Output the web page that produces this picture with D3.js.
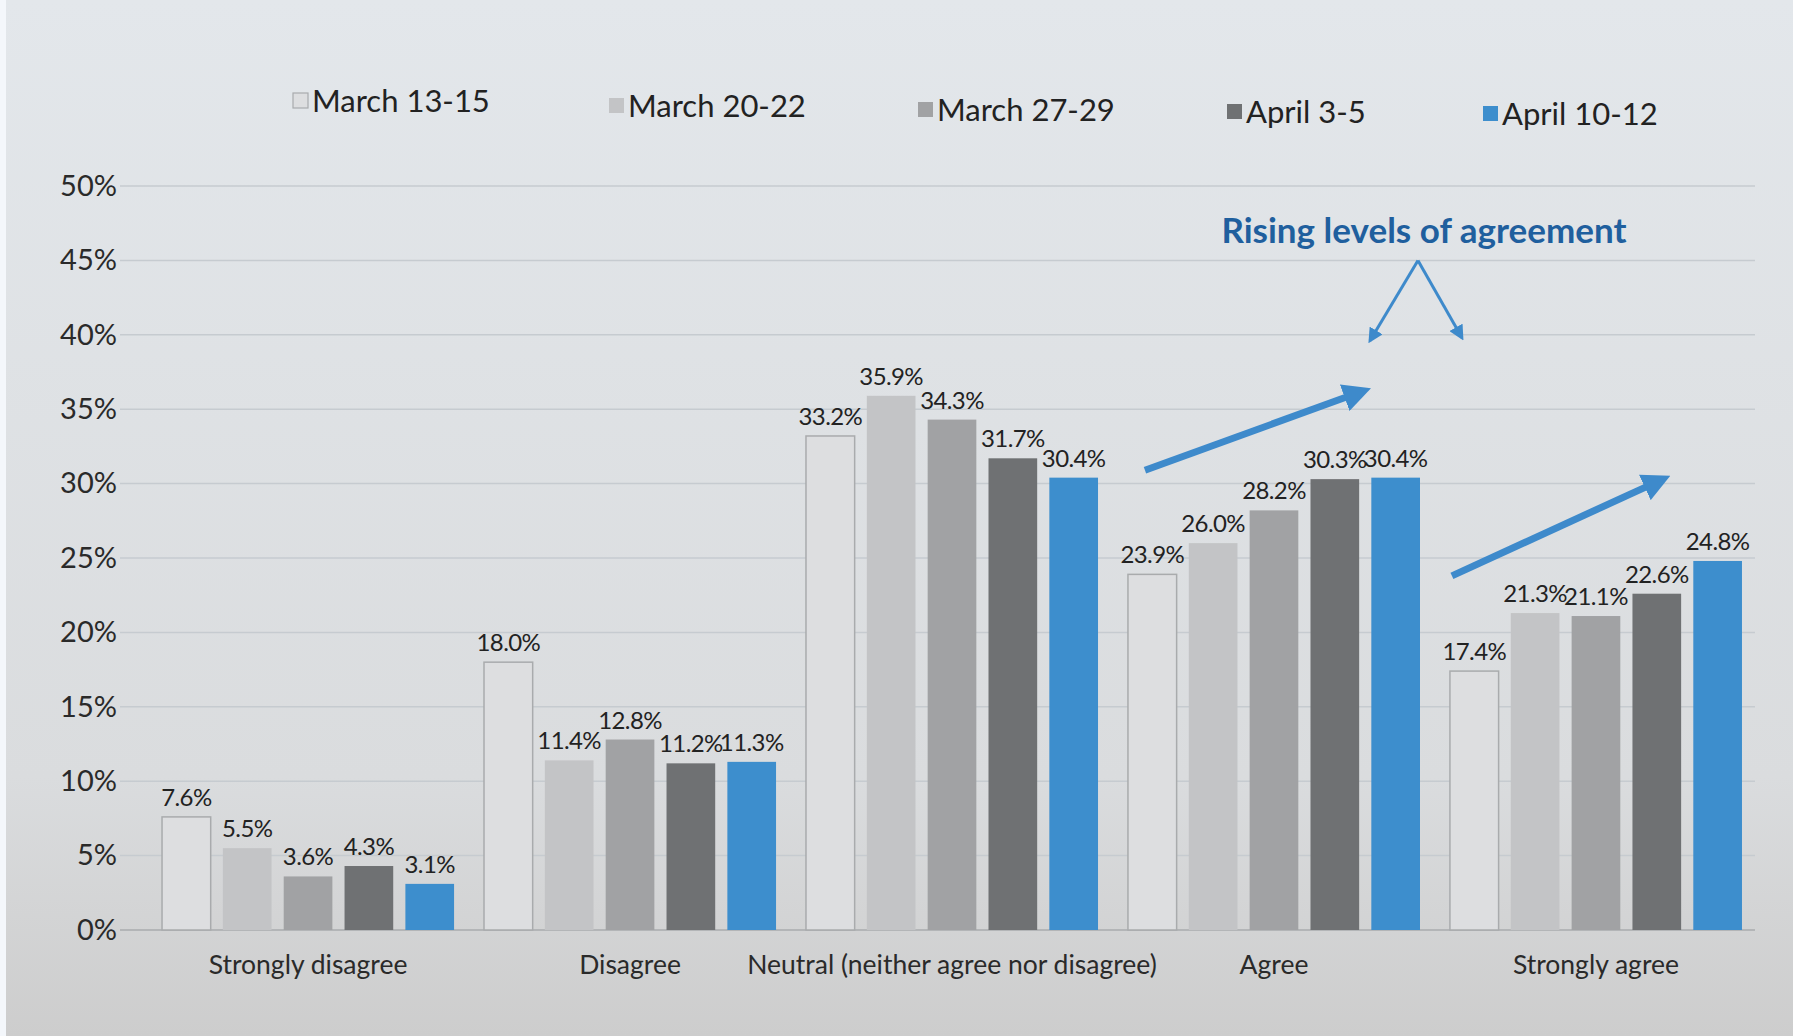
<!DOCTYPE html>
<html><head><meta charset="utf-8">
<script src="https://cdn.jsdelivr.net/npm/d3@7"></script>
<style>html,body{margin:0;padding:0;overflow:hidden;background:#dfe3e7}</style>
</head><body>
<svg id="c" width="1793" height="1036"></svg>
<script>
const categories = ["Strongly disagree","Disagree","Neutral (neither agree nor disagree)","Agree","Strongly agree"];
const seriesNames = ["March 13-15","March 20-22","March 27-29","April 3-5","April 10-12"];
const march13 = [7.6, 18.0, 33.2, 23.9, 17.4];
const march20 = [5.5, 11.4, 35.9, 26.0, 21.3];
const march27 = [3.6, 12.8, 34.3, 28.2, 21.1];
const april3  = [4.3, 11.2, 31.7, 30.3, 22.6];
const april10 = [3.1, 11.3, 30.4, 30.4, 24.8];
const yTicks = [0,5,10,15,20,25,30,35,40,45,50];
const annotationText = "Rising levels of agreement";

const seriesValues = [march13, march20, march27, april3, april10];
const colors = ["#dddee0","#c3c4c6","#a1a2a4","#6f7173","#3d8ecd"];
const strokes = ["#a9abad","none","none","none","none"];

const svg = d3.select("#c");
const W = 1793, H = 1036;
const defs = svg.append("defs");
const bg = defs.append("linearGradient").attr("id","bg").attr("x1",0).attr("y1",0).attr("x2",0).attr("y2",1);
bg.append("stop").attr("offset","0%").attr("stop-color","#e3e7eb");
bg.append("stop").attr("offset","75%").attr("stop-color","#dadcde");
bg.append("stop").attr("offset","100%").attr("stop-color","#cdcdcd");
svg.append("rect").attr("width",W).attr("height",H).attr("fill","url(#bg)");
svg.append("rect").attr("width",6).attr("height",H).attr("fill","#f4f7fb");

const font = "Lato, 'Open Sans', sans-serif";
const y = d3.scaleLinear().domain([0,50]).range([930,186]);
const x0 = d3.scaleBand().domain(categories).range([125,1779]).paddingInner(0.093).paddingOuter(0.115);
const x1 = d3.scaleBand().domain(seriesNames).range([0,x0.bandwidth()]).paddingInner(0.2).paddingOuter(0);

// gridlines
svg.append("g").selectAll("line").data(yTicks).join("line")
  .attr("x1",120).attr("x2",1755)
  .attr("y1",d=>y(d)).attr("y2",d=>y(d))
  .attr("stroke",d=>d===0?"#a8abae":"#c6cbd0").attr("stroke-width",1.5);

// y axis
const yAxis = d3.axisLeft(y).tickValues(yTicks).tickFormat(d=>d+"%").tickSize(0).tickPadding(0);
const ya = svg.append("g").attr("transform","translate(117,0)").call(yAxis);
ya.select(".domain").remove();
ya.selectAll("text").attr("font-family",font).attr("font-size",29).attr("fill","#2a2a2a");

// x axis labels
const xAxis = d3.axisBottom(x0).tickSize(0).tickPadding(0);
const xa = svg.append("g").attr("transform","translate(0,955)").call(xAxis);
xa.select(".domain").remove();
xa.selectAll("text").attr("font-family",font).attr("font-size",26.5).attr("fill","#2a2a2a");

// bars
const groups = svg.append("g").selectAll("g").data(categories).join("g")
  .attr("transform",c=>`translate(${x0(c)},0)`);
groups.each(function(c,ci){
  const g = d3.select(this);
  const rows = seriesNames.map((s,si)=>({s,si,v:seriesValues[si][ci]}));
  g.selectAll("rect").data(rows).join("rect")
    .attr("x",d=>x1(d.s)).attr("width",x1.bandwidth())
    .attr("y",d=>y(d.v)).attr("height",d=>y(0)-y(d.v))
    .attr("fill",d=>colors[d.si]).attr("stroke",d=>strokes[d.si]).attr("stroke-width",1.5);
  g.selectAll("text").data(rows).join("text")
    .attr("x",d=>x1(d.s)+x1.bandwidth()/2).attr("y",d=>y(d.v)-11)
    .attr("text-anchor","middle").attr("font-family",font).attr("font-size",24)
    .attr("letter-spacing","-0.6px")
    .attr("fill","#222").text(d=>d.v.toFixed(1)+"%");
});

// legend
const legendX = [293,609,918,1227,1483];
const legendY = [101,106,110,112,114];
const lg = svg.append("g").selectAll("g").data(seriesNames).join("g")
  .attr("transform",(d,i)=>`translate(${legendX[i]},${legendY[i]})`);
lg.append("rect").attr("x",0).attr("y",-8).attr("width",15).attr("height",15)
  .attr("fill",(d,i)=>colors[i]).attr("stroke",(d,i)=>strokes[i]).attr("stroke-width",1.2);
lg.append("text").attr("x",19).attr("y",11).attr("font-family",font).attr("font-size",31)
  .attr("fill","#222").text(d=>d);

// annotation
const blue = "#3e8acb";
defs.append("marker").attr("id","big").attr("viewBox","0 0 10 10").attr("refX",2).attr("refY",5)
  .attr("markerWidth",4).attr("markerHeight",4).attr("orient","auto")
  .append("path").attr("d","M0,0 L10,5 L0,10 Z").attr("fill",blue);
defs.append("marker").attr("id","small").attr("viewBox","0 0 10 10").attr("refX",8).attr("refY",5)
  .attr("markerWidth",5).attr("markerHeight",5).attr("orient","auto")
  .append("path").attr("d","M0,0 L10,5 L0,10 Z").attr("fill",blue);

const gA = x0("Agree"), gS = x0("Strongly agree");
const bigArrows = [
  {x1:gA+17, v1:30.9, x2:gA+222, v2:35.9},
  {x1:gS+2,  v1:23.8, x2:gS+200, v2:29.9}
];
svg.append("g").selectAll("line").data(bigArrows).join("line")
  .attr("x1",d=>d.x1).attr("y1",d=>y(d.v1)).attr("x2",d=>d.x2).attr("y2",d=>y(d.v2))
  .attr("stroke",blue).attr("stroke-width",7).attr("marker-end","url(#big)");

const apexX = gA+290, apexV = 45.0;
const caret = [
  {x:gA+242, v:39.6},
  {x:gA+334, v:39.8}
];
svg.append("g").selectAll("line").data(caret).join("line")
  .attr("x1",apexX).attr("y1",y(apexV)).attr("x2",d=>d.x).attr("y2",d=>y(d.v))
  .attr("stroke",blue).attr("stroke-width",3).attr("marker-end","url(#small)");

svg.append("text").attr("x",apexX+6).attr("y",y(46.2)).attr("text-anchor","middle")
  .attr("font-family",font).attr("font-weight","bold").attr("font-size",35)
  .attr("fill","#1f5f9e").text(annotationText);
</script>
</body></html>
